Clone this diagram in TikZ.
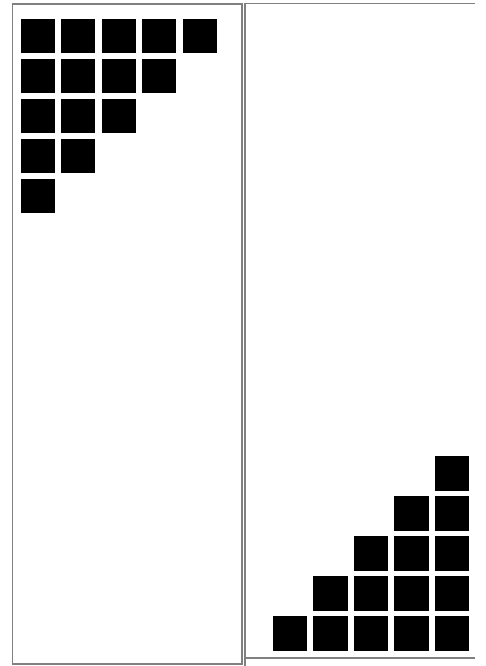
\documentclass[tikz,border=0pt]{standalone}
\begin{document}
\begin{tikzpicture}[x=1pt,y=-1pt,
  panel/.style={draw=black!50,line width=1.6pt},
  cell/.style={fill=black}]
\useasboundingbox (0,0) rectangle (485,666);
% left panel
\draw[panel] (12.3,4) rectangle (242,664);
% right panel (open on the right)
\draw[panel] (475,3.5) -- (245,3.5) -- (245,666);
\draw[panel] (245,658) -- (475,658);
% left staircase
\foreach \r in {0,...,4}{
  \pgfmathtruncatemacro{\n}{4-\r}
  \foreach \c in {0,...,\n}{
    \fill[cell] (20.6+40.5*\c,19+40*\r) rectangle ++(34,34);
  }
}
% right staircase
\foreach \r in {0,...,4}{
  \foreach \c in {\r,...,4}{
    \fill[cell] (272.7+40.5*\c,616-40*\r) rectangle ++(34.5,34.5);
  }
}
\end{tikzpicture}
\end{document}
